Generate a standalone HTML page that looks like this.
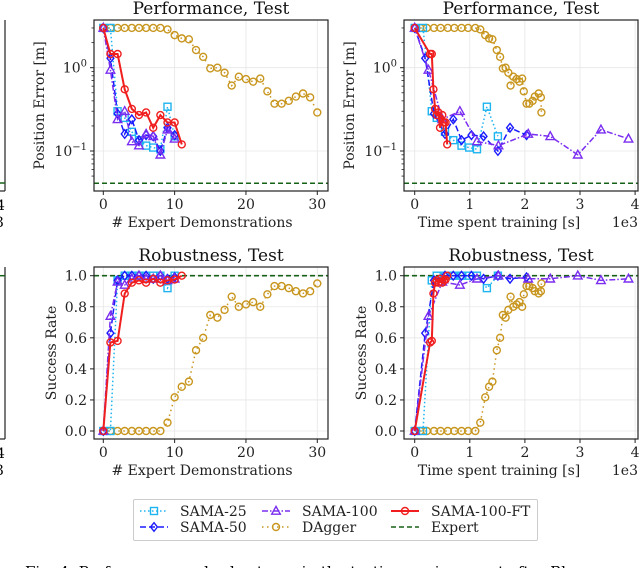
<!DOCTYPE html>
<html><head><meta charset="utf-8"><style>
html,body{margin:0;padding:0;background:#fff;width:640px;height:568px;overflow:hidden}
svg{display:block;font-family:"DejaVu Serif","Liberation Serif",serif}
</style></head><body>
<svg id="fig" width="640" height="568" viewBox="0 0 640 568" xmlns="http://www.w3.org/2000/svg">
<g>
<line x1="5" y1="20" x2="5" y2="191" stroke="#222" stroke-width="1.2"/>
<line x1="0" y1="191" x2="5" y2="191" stroke="#222" stroke-width="1.2"/>
<line x1="0" y1="183" x2="5" y2="183" stroke="#176017" stroke-width="1.5" stroke-dasharray="5,3"/>
<text x="-4" y="210" font-size="14">4</text><text x="-5" y="227" font-size="14">3</text>
<line x1="5" y1="267" x2="5" y2="439" stroke="#222" stroke-width="1.2"/>
<line x1="0" y1="439" x2="5" y2="439" stroke="#222" stroke-width="1.2"/>
<line x1="0" y1="275.7" x2="5" y2="275.7" stroke="#176017" stroke-width="1.5" stroke-dasharray="5,3"/>
<text x="-4" y="458" font-size="14">4</text><text x="-5" y="475" font-size="14">3</text>
</g>
<g id="legend"></g>
<text x="25" y="577" font-size="15">Fig. 4:  Performance and robustness in the testing environment after Bl</text>
</svg>
<script>
// ---- data ----
const demos25 = [0,1,2,3,4,5,6,7,8,9,10];
const demos50 = [0,1,2,3,4,5,6,7,8,9,10];
const demos100 = [0,1,2,3,4,5,6,7,8,9,10];
const demosFT = [0,1,2,3,4,5,6,7,8,9,10,11];
const demosDAg = [0,1,2,3,4,5,6,7,8,9,10,11,12,13,14,15,16,17,18,19,20,21,22,23,24,25,26,27,28,29,30];

const time25 = [0,0.15,0.31,0.4,0.55,0.7,0.85,0.99,1.13,1.31,1.51];
const time50 = [0,0.19,0.35,0.55,0.7,0.85,1.03,1.25,1.51,1.73,2.03];
const time100 = [0,0.25,0.5,0.82,1.13,1.52,2.06,2.46,2.96,3.38,3.88];
const timeFT = [0,0.28,0.31,0.34,0.37,0.4,0.43,0.46,0.5,0.53,0.56,0.59];
const timeDAg = [0.1,0.22,0.35,0.47,0.6,0.72,0.85,0.97,1.1,1.19,1.28,1.35,1.41,1.49,1.55,1.6,1.65,1.7,1.74,1.79,1.85,1.9,1.95,1.98,2.03,2.08,2.14,2.18,2.25,2.29,2.3];

const err25 = [3.0,3.0,0.30,0.25,0.17,0.135,0.116,0.11,0.105,0.34,0.15];
const err50 = [3.0,1.3,0.28,0.16,0.24,0.135,0.155,0.15,0.10,0.19,0.155];
const err100 = [3.0,0.94,0.24,0.30,0.13,0.116,0.16,0.15,0.09,0.18,0.14];
const errFT = [3.0,1.46,1.46,0.55,0.32,0.27,0.29,0.19,0.27,0.22,0.22,0.12];
const errDAg = [3.0,3.0,3.0,3.0,3.0,3.0,3.0,3.0,3.0,2.88,2.46,2.25,2.19,1.63,1.35,0.98,1.0,0.87,0.61,0.78,0.73,0.68,0.74,0.52,0.37,0.37,0.40,0.45,0.49,0.44,0.29];
const errExpert = 0.041;

const succ25 = [0,0,0.97,1.0,1.0,1.0,1.0,1.0,1.0,0.92,1.0];
const succ50 = [0,0.63,0.97,1.0,1.0,1.0,1.0,0.98,1.0,0.98,0.99];
const succ100 = [0,0.74,0.96,0.94,0.98,1.0,0.98,0.98,1.0,0.97,0.98];
const succFT = [0,0.57,0.58,0.885,0.955,0.97,0.955,0.98,0.955,0.97,0.975,1.0];
const succDAg = [0,0,0,0,0,0,0,0,0,0.054,0.217,0.285,0.318,0.52,0.60,0.747,0.73,0.78,0.865,0.80,0.815,0.83,0.80,0.88,0.933,0.933,0.92,0.90,0.886,0.90,0.95];
const succExpert = 1.0;

const xTicksDemo = [0,10,20,30];
const xTicksTime = [0,1,2,3,4];
const yTicksSucc = ["0.0","0.2","0.4","0.6","0.8","1.0"];

// ---- drawing ----
const NS = "http://www.w3.org/2000/svg";
const svg = document.getElementById('fig');
function mk(tag, attrs, parent){const e=document.createElementNS(NS,tag);for(const k in attrs)e.setAttribute(k,attrs[k]);(parent||svg).appendChild(e);return e;}

const styles = {
  s25:{c:"#1eb4f0",dash:"1.5,2.5",m:"square",w:1.5},
  s50:{c:"#1a1aff",dash:"6,3",m:"diamond",w:1.5},
  s100:{c:"#7a2ef0",dash:"6,2,1.5,2",m:"tri",w:1.5},
  dag:{c:"#c8961e",dash:"1.5,3.5",m:"circle",w:1.5},
  ft:{c:"#f01e1e",dash:"",m:"circle",w:2}
};

function marker(g, st, x, y){
  const a={fill:"none",stroke:st.c,"stroke-width":1.4};
  let e;
  if(st.m==="square") e=mk('rect',Object.assign({x:x-3.5,y:y-3.5,width:7,height:7},a),g);
  else if(st.m==="diamond") e=mk('polygon',Object.assign({points:`${x},${y-4.3} ${x+3.4},${y} ${x},${y+4.3} ${x-3.4},${y}`},a),g);
  else if(st.m==="tri") e=mk('polygon',Object.assign({points:`${x},${y-4.6} ${x+4.3},${y+3.2} ${x-4.3},${y+3.2}`},a),g);
  else e=mk('circle',Object.assign({cx:x,cy:y,r:3.5},a),g);
  
  
}

function series(g, name, st, xs, ys, sx, sy){
  const sg = mk('g',{},g);
  
  
  const pts = xs.map((v,i)=>sx(v).toFixed(1)+","+sy(ys[i]).toFixed(1)).join(" ");
  const pl = mk('polyline',{points:pts,fill:"none",stroke:st.c,"stroke-width":st.w,"stroke-dasharray":st.dash},sg);
  
  
  xs.forEach((v,i)=>marker(sg,st,sx(v),sy(ys[i])));
}

function panel(cfg){
  const g = mk('g',{});
  
  
  const {L,R,T,B} = cfg;
  cfg.xticks.forEach(t=>{mk('line',{x1:cfg.sx(t),x2:cfg.sx(t),y1:T,y2:B,stroke:"#e6e6e6","stroke-width":0.8},g);});
  cfg.ygrid.forEach(v=>{mk('line',{x1:L,x2:R,y1:cfg.sy(v),y2:cfg.sy(v),stroke:"#e6e6e6","stroke-width":0.8},g);});
  const ex = mk('line',{x1:L,x2:R,y1:cfg.sy(cfg.expert),y2:cfg.sy(cfg.expert),stroke:"#176017","stroke-width":1.6,"stroke-dasharray":"5,3"},g);
  
  
  const d = cfg.data;
  series(g,'dagger-series',styles.dag,d.xDag,d.yDag,cfg.sx,cfg.sy);
  series(g,'sama-25-series',styles.s25,d.x25,d.y25,cfg.sx,cfg.sy);
  series(g,'sama-50-series',styles.s50,d.x50,d.y50,cfg.sx,cfg.sy);
  series(g,'sama-100-series',styles.s100,d.x100,d.y100,cfg.sx,cfg.sy);
  series(g,'sama-100-ft-series',styles.ft,d.xFT,d.yFT,cfg.sx,cfg.sy);
  mk('rect',{x:L,y:T,width:R-L,height:B-T,fill:"none",stroke:"#222","stroke-width":1.2},g);
  cfg.xticks.forEach(t=>{const x=cfg.sx(t);mk('line',{x1:x,x2:x,y1:B,y2:B+4,stroke:"#222","stroke-width":1},g);
    const tx=mk('text',{x:x,y:B+18,"font-size":14,"text-anchor":"middle",fill:"#222"},g);tx.textContent=t;
    });
  cfg.yticks.forEach(t=>{const y=cfg.sy(t.v);mk('line',{x1:L-4,x2:L,y1:y,y2:y,stroke:"#222","stroke-width":1},g);
    const tx=mk('text',{x:L-7,y:y+5,"font-size":14,"text-anchor":"end",fill:"#222"},g);
    if(t.exp){tx.textContent="10";const ts=mk('tspan',{dy:-6,"font-size":10},tx);ts.textContent=t.exp;}
    else tx.textContent=t.label;
    });
  (cfg.minor||[]).forEach(v=>{const y=cfg.sy(v);mk('line',{x1:L-2.5,x2:L,y1:y,y2:y,stroke:"#222","stroke-width":0.8},g);});
  const ti=mk('text',{x:(L+R)/2,y:T-6,"font-size":17,"text-anchor":"middle",fill:"#111"},g);ti.textContent=cfg.title;
  
  const xl=mk('text',{x:cfg.xlx,y:B+36,"font-size":14,"text-anchor":"middle",fill:"#222"},g);xl.textContent=cfg.xlabel;
  
  const yl=mk('text',{x:0,y:0,"font-size":14,"text-anchor":"middle",fill:"#222",transform:`translate(${cfg.ylx},${(T+B)/2}) rotate(-90)`},g);yl.textContent=cfg.ylabel;
  
  if(cfg.offset){const o=mk('text',{x:R,y:B+36,"font-size":14,"text-anchor":"end",fill:"#222"},g);o.textContent=cfg.offset;
    }
}

const logY = v => 67.7 - 83.3*Math.log10(v);
const linY = v => 431 - 155.3*v;
const demoX = (L0)=> v => L0 + 7.133*v;
const timeX = v => 414.7 + 55.1*v;
const minor=[0.05,0.06,0.07,0.08,0.09,0.2,0.3,0.4,0.5,0.6,0.7,0.8,0.9,2,3];
const logTicks=[{v:1,exp:"0"},{v:0.1,exp:"−1"}];
const succTicks=yTicksSucc.map(s=>({v:parseFloat(s),label:s}));
const dDemoErr={x25:demos25,y25:err25,x50:demos50,y50:err50,x100:demos100,y100:err100,xFT:demosFT,yFT:errFT,xDag:demosDAg,yDag:errDAg};
const dTimeErr={x25:time25,y25:err25,x50:time50,y50:err50,x100:time100,y100:err100,xFT:timeFT,yFT:errFT,xDag:timeDAg,yDag:errDAg};
const dDemoS={x25:demos25,y25:succ25,x50:demos50,y50:succ50,x100:demos100,y100:succ100,xFT:demosFT,yFT:succFT,xDag:demosDAg,yDag:succDAg};
const dTimeS={x25:time25,y25:succ25,x50:time50,y50:succ50,x100:time100,y100:succ100,xFT:timeFT,yFT:succFT,xDag:timeDAg,yDag:succDAg};

panel({name:'performance-demos-panel',L:94,R:328,T:20,B:191,sx:demoX(103.3),sy:logY,xticks:xTicksDemo,ygrid:[1,0.1],yticks:logTicks,minor:minor,expert:errExpert,data:dDemoErr,title:"Performance, Test",xlabel:"# Expert Demonstrations",xlx:202,ylabel:"Position Error [m]",ylx:44});
panel({name:'performance-time-panel',L:404,R:638,T:20,B:191,sx:timeX,sy:logY,xticks:xTicksTime,ygrid:[1,0.1],yticks:logTicks,minor:minor,expert:errExpert,data:dTimeErr,title:"Performance, Test",xlabel:"Time spent training [s]",xlx:499,ylabel:"Position Error [m]",ylx:354,offset:"1e3"});
panel({name:'robustness-demos-panel',L:94,R:328,T:267,B:439,sx:demoX(103.3),sy:linY,xticks:xTicksDemo,ygrid:[0,0.2,0.4,0.6,0.8,1.0],yticks:succTicks,expert:succExpert,data:dDemoS,title:"Robustness, Test",xlabel:"# Expert Demonstrations",xlx:202,ylabel:"Success Rate",ylx:56});
panel({name:'robustness-time-panel',L:404,R:638,T:267,B:439,sx:timeX,sy:linY,xticks:xTicksTime,ygrid:[0,0.2,0.4,0.6,0.8,1.0],yticks:succTicks,expert:succExpert,data:dTimeS,title:"Robustness, Test",xlabel:"Time spent training [s]",xlx:499,ylabel:"Success Rate",ylx:366,offset:"1e3"});

const lg=document.getElementById('legend');
svg.appendChild(lg);
mk('rect',{x:133.5,y:499.5,width:404,height:41,fill:"#fff",stroke:"#ccc","stroke-width":1,rx:1.5},lg);
const entries=[["SAMA-25",styles.s25,140,511],["SAMA-50",styles.s50,140,527],["SAMA-100",styles.s100,262,511],["DAgger",styles.dag,262,527],["SAMA-100-FT",styles.ft,391,511],["Expert",{c:"#176017",dash:"5,3",w:1.6,m:null},391,527]];
entries.forEach(([lab,st,x,y])=>{
  const e=mk('g',{},lg);
  
  
  mk('line',{x1:x,x2:x+28,y1:y,y2:y,stroke:st.c,"stroke-width":st.w,"stroke-dasharray":st.dash},e);
  if(st.m) marker(e,st,x+14,y);
  const t=mk('text',{x:x+40,y:y+5,"font-size":14,fill:"#222"},e);t.textContent=lab;
});
</script>
</body></html>
